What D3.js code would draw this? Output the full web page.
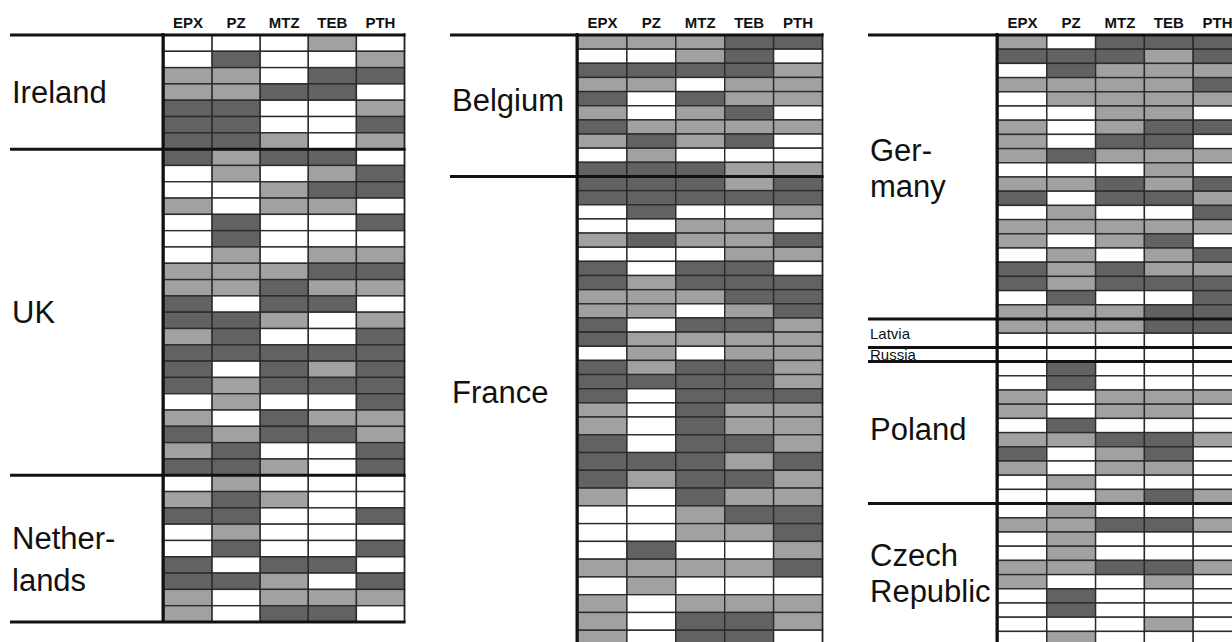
<!DOCTYPE html>
<html><head><meta charset="utf-8">
<script src="https://cdn.jsdelivr.net/npm/d3@7"></script>
<style>html,body{margin:0;padding:0;background:#fff;overflow:hidden}</style>
</head><body><svg id="c" width="1232" height="642"></svg>
<script>
// ---- data (0 = white, 1 = light grey, 2 = dark grey) ----
const columns = ["EPX","PZ","MTZ","TEB","PTH"];
const ireland = [[0,0,0,1,0],[0,2,0,0,1],[1,1,0,2,2],[1,1,2,2,0],[2,2,0,0,1],[2,2,0,0,2],[2,2,1,0,1]];
const uk = [[2,1,2,2,0],[0,1,0,1,2],[0,0,1,2,2],[1,0,1,1,0],[0,2,0,0,2],[0,2,0,0,0],[0,1,0,1,1],[1,1,1,2,2],[1,1,2,1,1],[2,0,2,2,0],
            [2,2,1,0,1],[1,2,0,0,2],[2,2,2,2,2],[2,0,2,1,2],[2,1,2,2,2],[0,1,0,0,2],[1,0,2,1,1],[2,1,2,2,1],[1,2,0,0,2],[2,2,1,0,2]];
const netherlands = [[0,1,0,0,0],[1,2,1,0,0],[2,2,0,0,2],[0,1,0,0,0],[0,2,0,0,2],[2,0,2,2,0],[2,2,1,0,2],[1,0,1,1,1],[1,0,2,2,0]];
const belgium = [[1,1,1,2,2],[0,0,1,2,0],[2,2,2,2,1],[1,1,0,1,1],[2,0,2,1,1],[1,0,1,2,0],[2,1,1,1,1],[1,2,1,2,0],[0,1,0,0,0],[2,2,2,1,1]];
const france = [[2,2,2,1,2],[2,2,2,2,2],[0,2,0,0,1],[0,0,1,1,0],[1,2,1,1,2],[0,0,0,1,1],[2,0,2,2,0],[2,1,2,2,2],[1,1,1,2,2],[1,1,0,1,2],
                [2,0,2,2,1],[2,1,1,1,1],[0,1,0,1,1],[2,1,2,2,1],[2,2,2,2,1],[2,0,2,2,2],[1,0,2,1,1],[1,0,2,1,1],[2,0,2,2,1],[2,2,2,1,2],
                [2,1,2,2,1],[1,0,2,1,1],[0,0,1,2,2],[0,0,1,1,2],[0,2,0,0,1],[1,1,1,1,2],[0,1,0,0,0],[1,0,1,1,1],[1,0,2,2,1],[1,0,2,2,0]];
const germany = [[1,0,2,2,2],[2,2,2,1,2],[0,2,1,1,1],[1,1,1,1,2],[0,1,1,1,1],[0,0,1,1,0],[1,0,1,2,2],[1,0,2,2,0],[1,2,1,1,1],[0,0,0,1,0],
                 [1,1,2,1,2],[2,0,2,2,1],[0,1,0,0,2],[1,1,1,1,1],[1,0,1,2,0],[0,1,0,1,2],[2,1,2,1,1],[2,1,2,2,2],[0,2,0,0,2],[1,1,1,2,2]];
const latvia = [[1,1,1,2,2],[0,0,0,0,0]];
const russia = [[0,0,0,0,0]];
const poland = [[0,2,0,0,0],[0,2,0,0,0],[1,0,1,1,1],[1,0,1,1,0],[0,2,0,0,0],[1,1,2,2,1],[2,0,1,2,0],[1,0,1,1,0],[0,1,0,0,0],[0,0,1,2,1]];
const czech = [[0,1,0,0,0],[1,1,2,2,1],[0,1,0,0,0],[0,1,0,0,0],[1,1,2,2,1],[1,0,0,1,0],[0,2,0,0,0],[0,2,0,0,0],[0,0,0,1,0],[0,1,0,0,0]];

// ---- layout ----
const colors = d3.scaleOrdinal().domain([0,1,2]).range(["#ffffff","#a1a1a1","#626262"]);
const panels = [
  {x0:164, colW:48.1, lineX0:10, labelX:12, yDom:[0,36], yRng:[35,622], bottomLine:true,
   groups:[{name:["Ireland"],rows:ireland},{name:["UK"],rows:uk},{name:["Nether-","lands"],rows:netherlands,dy:10,lh:42}]},
  {x0:578, colW:48.9, lineX0:450, labelX:452, yDom:[0,27,40], yRng:[35,417,648], bottomLine:false,
   groups:[{name:["Belgium"],rows:belgium,dy:-6},{name:["France"],rows:france,dy:-20}]},
  {x0:998, colW:48.8, lineX0:868, labelX:870, yDom:[0,43], yRng:[35,35+43*14.2], bottomLine:false,
   groups:[{name:["Ger-","many"],rows:germany,dy:-9},{name:["Latvia"],rows:latvia,small:true},{name:["Russia"],rows:russia,small:true},
           {name:["Poland"],rows:poland,dy:-4},{name:["Czech","Republic"],rows:czech,dy:-2}]}
];

const svg = d3.select("#c");
panels.forEach(p => {
  const x = d3.scaleBand().domain(columns).range([p.x0, p.x0 + columns.length*p.colW]);
  const y = d3.scaleLinear().domain(p.yDom).range(p.yRng);
  const g = svg.append("g");
  const xEnd = x.range()[1];

  // header
  g.selectAll("text.h").data(columns).join("text")
    .attr("x", d => x(d) + x.bandwidth()/2).attr("y", 28)
    .attr("text-anchor","middle").attr("font-family","'Liberation Sans',Arial,sans-serif")
    .attr("font-weight","bold").attr("font-size",15).attr("fill","#111").text(d => d);

  let start = 0;
  const bounds = [];
  p.groups.forEach(gr => {
    const cells = [];
    gr.rows.forEach((r,i) => r.forEach((v,j) => cells.push({row:start+i, col:columns[j], v})));
    g.append("g").selectAll("rect").data(cells).join("rect")
      .attr("x", d => x(d.col)).attr("width", x.bandwidth())
      .attr("y", d => y(d.row)).attr("height", d => y(d.row+1) - y(d.row))
      .attr("fill", d => colors(d.v)).attr("stroke","#2b2b2b").attr("stroke-width",1.4);
    const top = y(start), bot = y(start + gr.rows.length);
    bounds.push(top);
    const mid = (top + bot)/2 + (gr.dy || 0);
    const fs = gr.small ? 15 : 31;
    const lh = gr.lh || 36;
    const n = gr.name.length;
    gr.name.forEach((t,k) => {
      g.append("text").attr("x", p.labelX)
        .attr("y", mid + (k - (n-1)/2)*lh)
        .attr("dy","0.36em")
        .attr("font-family","'Liberation Sans',Arial,sans-serif")
        .attr("font-size", fs).attr("fill","#111").text(t);
    });
    start += gr.rows.length;
  });
  if (p.bottomLine) bounds.push(y(start));

  // left vertical border
  g.append("line").attr("x1",p.x0-1).attr("x2",p.x0-1).attr("y1",33).attr("y2",Math.min(y(start),642))
    .attr("stroke","#111").attr("stroke-width",3);
  // right border
  g.append("line").attr("x1",xEnd).attr("x2",xEnd).attr("y1",33).attr("y2",Math.min(y(start),642))
    .attr("stroke","#222").attr("stroke-width",1.5);
  // group lines
  g.selectAll("line.b").data(bounds).join("line")
    .attr("x1",p.lineX0).attr("x2",xEnd+1).attr("y1",d=>d).attr("y2",d=>d)
    .attr("stroke","#111").attr("stroke-width",3);
});
</script></body></html>
